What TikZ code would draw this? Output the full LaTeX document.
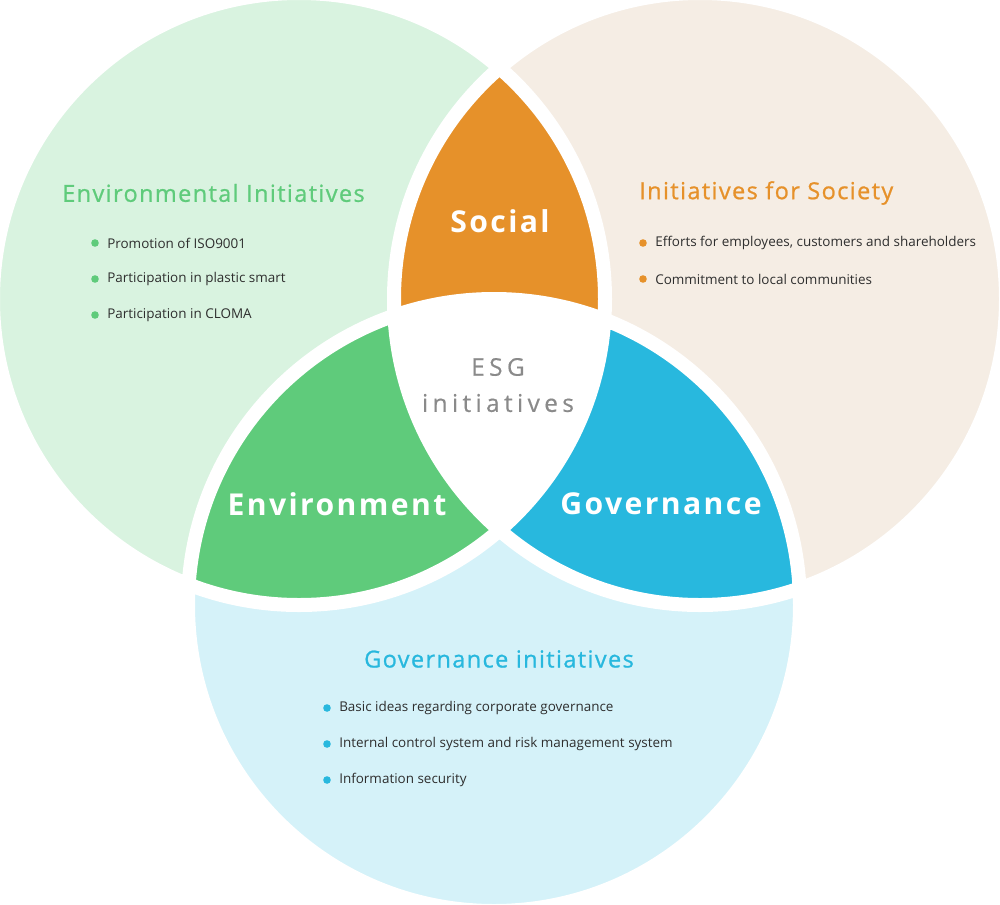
\documentclass[tikz,border=0pt]{standalone}
\usepackage{fontspec}
\usepackage{tikz}
\setmainfont{Open Sans}
\newfontfamily\headfont[LetterSpace=6,FakeBold=0.9]{Open Sans}
\newfontfamily\keyfont[LetterSpace=8]{Open Sans}
\newfontfamily\esgfont[LetterSpace=18,FakeBold=0.4]{Open Sans}
\definecolor{envlight}{HTML}{D9F3E0}
\definecolor{envdark}{HTML}{5FCB7B}
\definecolor{soclight}{HTML}{F5EDE4}
\definecolor{socdark}{HTML}{E6912A}
\definecolor{govlight}{HTML}{D5F2F9}
\definecolor{govdark}{HTML}{28B8DE}
\definecolor{bodygray}{HTML}{2E2E2E}
\definecolor{esggray}{HTML}{8A8A8A}

\begin{document}
\begin{tikzpicture}[x=0.75pt,y=-0.75pt,
    item/.style={anchor=west,inner sep=0pt,text=bodygray,font=\fontsize{10.1}{12}\selectfont},
    head/.style={anchor=west,inner sep=0pt,font=\headfont\fontsize{17.6}{20}\selectfont},
    key/.style={inner sep=0pt,text=white,font=\keyfont\bfseries\fontsize{22.6}{26}\selectfont}]
  \useasboundingbox (0,0) rectangle (1000,904);
  \coordinate (G) at (299,299);
  \coordinate (S) at (700,299);
  \coordinate (B) at (494,605);
  % light circles
  \fill[envlight] (G) circle (306);
  \fill[soclight] (S) circle (306);
  \fill[govlight] (B) circle (306);
  % overlaps
  \begin{scope}
    \clip (S) circle (306);
    \fill[govdark] (B) circle (306);
  \end{scope}
  \begin{scope}
    \clip (G) circle (306);
    \fill[socdark] (S) circle (306);
    \fill[envdark] (B) circle (306);
    \clip (S) circle (306);
    \fill[white] (B) circle (306);
  \end{scope}
  % white gaps
  \draw[white,line width=10.5pt] (G) circle (306) (S) circle (306) (B) circle (306);

  \node[key] (social) at (500,221) {Social};
  \node[key] (environment) at (337,504) {Environment};
  \node[key] (governance) at (661,504) {Governance};
  \node[inner sep=0pt,text=esggray,font=\esgfont\fontsize{18.3}{20}\selectfont] (esg) at (498,367) {ESG};
  \node[inner sep=0pt,text=esggray,font=\esgfont\fontsize{18.3}{20}\selectfont] (esginit) at (498,403) {initiatives};

  \node[head,text=envdark] (envhead) at (62,193) {Environmental Initiatives};
  \foreach \y/\t [count=\i] in {243/Promotion of ISO9001,279/Participation in plastic smart,315/Participation in CLOMA} {
    \fill[envdark] (95,\y) circle (3.8);
    \node[item] (envitem\i) at (107,\y) {\t};
  }

  \node[head,text=socdark] (sochead) at (639,193) {Initiatives for Society};
  \foreach \y/\t [count=\i] in {243/{Efforts for employees, customers and shareholders},279/Commitment to local communities} {
    \fill[socdark] (643,\y) circle (3.8);
    \node[item] (socitem\i) at (655,\y) {\t};
  }

  \node[head,anchor=center,text=govdark] (govhead) at (499,659) {Governance initiatives};
  \foreach \y/\t [count=\i] in {708/Basic ideas regarding corporate governance,744/Internal control system and risk management system,780/Information security} {
    \fill[govdark] (327,\y) circle (3.8);
    \node[item] (govitem\i) at (339,\y) {\t};
  }
\end{tikzpicture}
\end{document}
